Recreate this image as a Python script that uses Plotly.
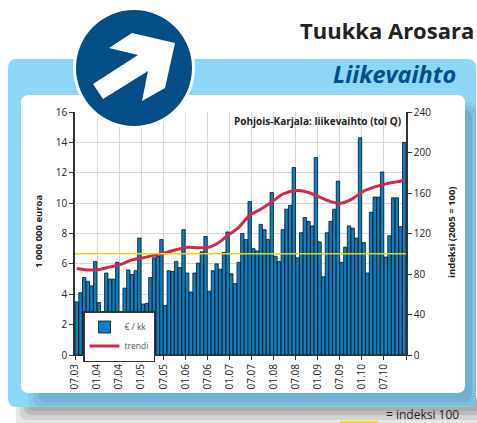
import plotly.graph_objects as go

W, H = 477, 423
tick_labels = ["07.03","01.04","07.04","01.05","07.05","01.06","07.06","01.07","07.07","01.08","07.08","01.09","07.09","01.10","07.10",""]
revenue = [3.5,4.1,5.1,4.85,4.55,6.15,3.45,2.8,5.4,5.0,5.0,6.1,2.85,4.4,5.6,5.3,5.55,7.7,3.35,3.4,5.1,6.4,6.5,7.6,3.25,5.55,5.5,6.15,5.75,8.25,
           5.4,4.15,5.4,6.05,6.8,7.8,4.2,5.55,6.0,5.65,6.75,8.1,5.35,4.7,6.1,8.0,7.6,10.1,7.0,6.85,8.6,8.25,7.6,10.7,6.5,6.15,8.25,9.6,9.85,12.35,
           6.4,8.05,9.05,8.8,8.5,13.0,7.45,5.15,8.05,8.8,9.6,11.45,6.1,7.1,8.5,8.35,7.7,14.3,7.4,5.4,9.4,10.4,10.4,12.05,6.45,7.85,10.35,10.35,8.45,14.0]
trend_months = [0.5,3.5,6.5,9.5,12.5,15.5,18.5,21.5,24.5,27.5,30.5,33.5,36.5,39.5,41.5,44.5,47.5,50.5,53.5,56.5,60.5,63.5,66.5,69.5,72.5,75.5,78.5,81.5,84.5,87.5,89.5]
trend_index = [85.5,84,84.5,87,89.5,94,96,98.5,101,104,106.5,106,106.5,112,118,126,138,144,151,159,162.5,160.5,156,151.5,150,154.5,162,166,169,171,172.5]
index_level = [100,100]

def px(x): return x / W
def py(y): return 1 - y / H
def rrect(x0, y0, x1, y1, r):
    a, b, c, d = px(x0), py(y0), px(x1), py(y1)
    rx, ry = r / W, r / H
    return (f"M{a+rx},{b} L{c-rx},{b} Q{c},{b} {c},{b-ry} L{c},{d+ry} Q{c},{d} {c-rx},{d} "
            f"L{a+rx},{d} Q{a},{d} {a},{d+ry} L{a},{b-ry} Q{a},{b} {a+rx},{b} Z")
def poly(pts):
    return "M" + " L".join(f"{px(x)},{py(y)}" for x, y in pts) + " Z"
def panel(x0, y0, x1, y1, r, col):
    return dict(type="path", xref="paper", yref="paper", path=rrect(x0, y0, x1, y1, r), fillcolor=col, line_width=0, layer="below")

shapes = [
    panel(16, 398, 490, 440, 8, "#e6e6e6"),
    panel(20, 398, 490, 420, 8, "#d2d2d2"),
    panel(24, 398, 490, 415, 8, "#bcbcbc"),
    panel(28, 398, 490, 411, 6, "#acacac"),
    panel(8, 59, 476, 407, 9, "#8dd6f6"),
    panel(28, 102, 476, 407, 9, "#84cbea"),
    panel(33, 106, 476, 406, 9, "#7bbedd"),
    panel(38, 110, 472, 402, 9, "#6fb1d2"),
    panel(21, 95, 465, 393, 8, "white"),
    dict(type="rect", xref="paper", yref="paper", x0=px(340), x1=px(378), y0=py(421), y1=py(423), fillcolor="#f2e000", line_width=0),
    dict(type="circle", xref="paper", yref="paper", x0=px(73), x1=px(195), y0=py(7), y1=py(129), fillcolor="white", line_width=0),
    dict(type="circle", xref="paper", yref="paper", x0=px(76), x1=px(192), y0=py(10), y1=py(126), fillcolor="#034e87", line_width=0),
    dict(type="path", xref="paper", yref="paper",
         path=poly([(132,33),(175,43),(165,88),(142,101),(148,71),(103,99),(93,84),(138,55),(109,48)]),
         fillcolor="white", line_width=0),
]

x_pos = [i + 0.5 for i in range(len(revenue))]
tickvals = [i * 6 for i in range(len(tick_labels))]

fig = go.Figure()
fig.add_bar(x=x_pos, y=revenue, name="€ / kk", marker=dict(color="#0a80c6", line=dict(color="#101010", width=0.8)))
fig.add_scatter(x=trend_months, y=trend_index, yaxis="y2", name="trendi", mode="lines",
                line=dict(color="#d1284c", width=3, shape="spline", smoothing=0.8))
fig.add_scatter(x=[0, 90], y=index_level, yaxis="y2", mode="lines", showlegend=False, hoverinfo="skip",
                line=dict(color="#e6d800", width=1.5))

font = "Open Sans"
fig.update_layout(
    width=W, height=H, margin=dict(l=0, r=0, t=0, b=0, autoexpand=False), paper_bgcolor="white", plot_bgcolor="rgba(0,0,0,0)",
    showlegend=True, bargap=0.08, shapes=shapes, font=dict(family=font, color="#222222", size=10),
    xaxis=dict(domain=[px(75), px(406)], range=[0, 90], tickmode="array", tickvals=tickvals, ticktext=tick_labels,
               tickangle=-90, ticks="outside", ticklen=4, tickcolor="#333", showgrid=True, gridcolor="#d8d8d8", gridwidth=1,
               showline=True, linecolor="#333", linewidth=1, tickfont=dict(size=10), anchor="y", zeroline=False),
    yaxis=dict(domain=[py(355), py(112)], range=[0, 16], tickvals=list(range(0, 17, 2)), ticks="outside", ticklen=4,
               tickcolor="#333", showgrid=True, gridcolor="#d8d8d8", gridwidth=1, showline=True, linecolor="#333",
               linewidth=1.5, zeroline=False, tickfont=dict(size=10)),
    yaxis2=dict(overlaying="y", side="right", range=[0, 240], tickvals=list(range(0, 241, 40)), ticks="outside", ticklen=4,
                tickcolor="#333", showgrid=False, showline=True, linecolor="#333", linewidth=1.5, zeroline=False,
                anchor="x", tickfont=dict(size=10)),
    legend=dict(x=px(83), y=py(311), xanchor="left", yanchor="top", bgcolor="white", bordercolor="#333", borderwidth=1.5,
                font=dict(size=8.5, color="#555"), itemwidth=30, tracegroupgap=0),
    annotations=[
        dict(text="<b>Tuukka Arosara</b>", xref="paper", yref="paper", x=px(476), y=py(30), xanchor="right", yanchor="middle",
             showarrow=False, font=dict(size=22, color="#222", family=font)),
        dict(text="<b><i>Liikevaihto</i></b>", xref="paper", yref="paper", x=px(458), y=py(74), xanchor="right", yanchor="middle",
             showarrow=False, font=dict(size=23.5, color="#034e87", family=font)),
        dict(text="<b>Pohjois-Karjala: liikevaihto (tol Q)</b>", xref="paper", yref="paper", x=px(403), y=py(121), xanchor="right",
             yanchor="middle", showarrow=False, font=dict(size=10, color="#222", family=font)),
        dict(text="<b>1 000 000 euroa</b>", xref="paper", yref="paper", x=px(38), y=py(232), textangle=-90, xanchor="center",
             yanchor="middle", showarrow=False, font=dict(size=9.5, color="#222", family=font)),
        dict(text="<b>indeksi (2005 = 100)</b>", xref="paper", yref="paper", x=px(451), y=py(232), textangle=-90, xanchor="center",
             yanchor="middle", showarrow=False, font=dict(size=9.5, color="#222", family=font)),
        dict(text="= indeksi 100", xref="paper", yref="paper", x=px(461), y=py(414), xanchor="right", yanchor="middle",
             showarrow=False, font=dict(size=12, color="#222", family=font)),
    ],
)
fig.write_html("out.html", config=dict(displayModeBar=False, responsive=False))
page = open("out.html", encoding="utf-8").read()
page = page.replace("<body>", '<body style="margin:0;overflow:hidden">', 1)
open("out.html", "w", encoding="utf-8").write(page)
